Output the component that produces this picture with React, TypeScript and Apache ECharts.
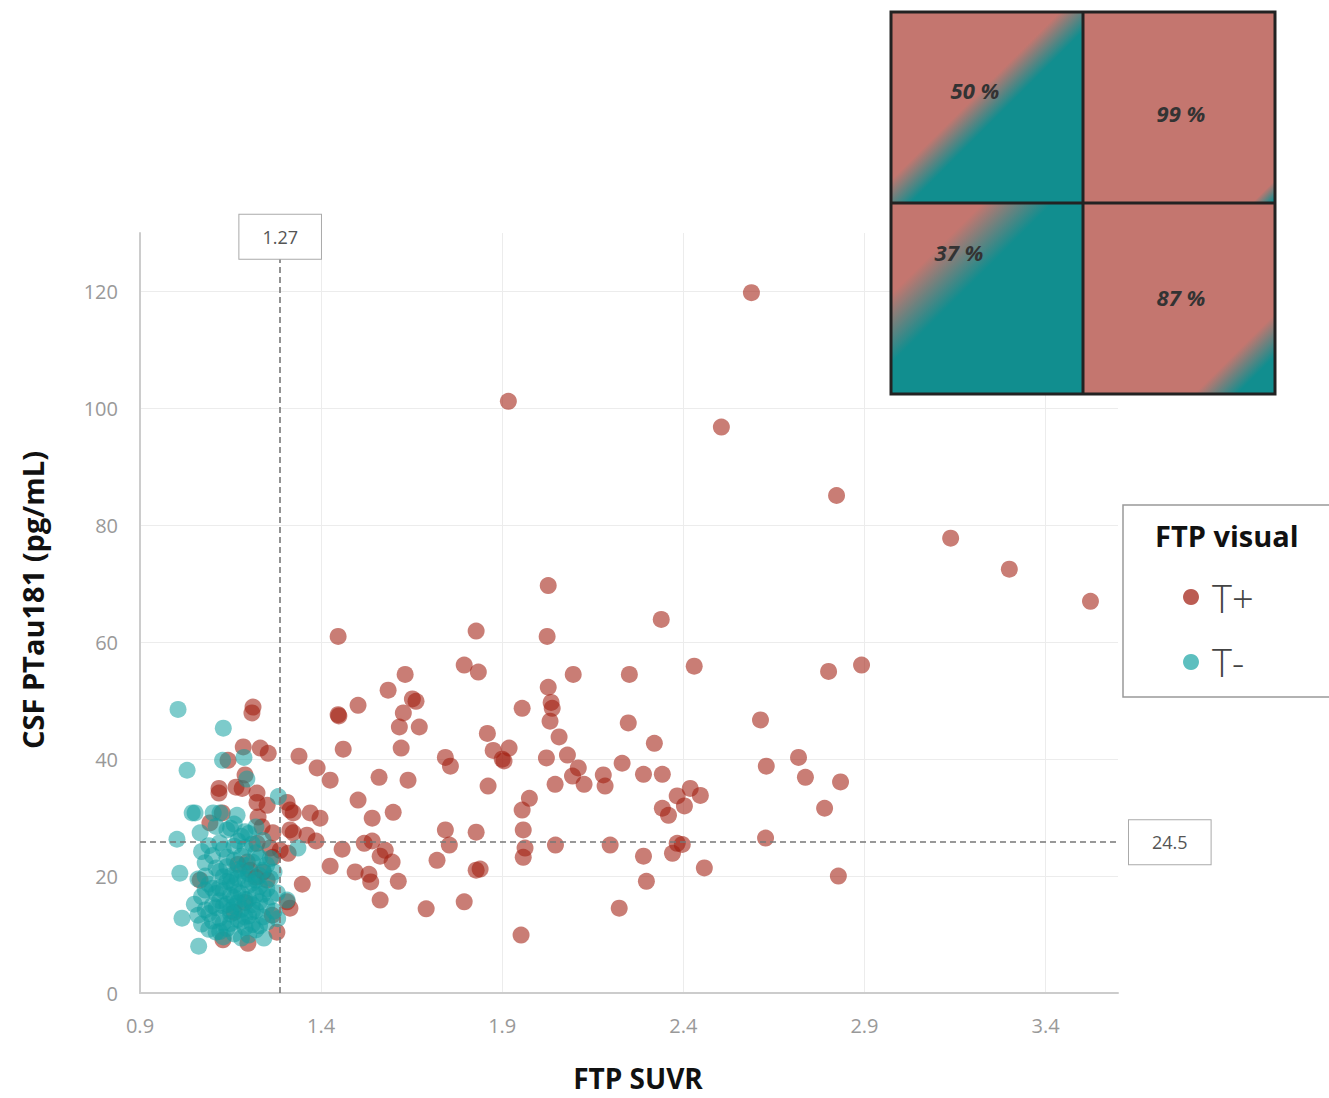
import React, { useEffect, useRef } from 'react';
import * as echarts from 'echarts';

// ---- Data ----
const xTickLabels = ['0.9', '1.4', '1.9', '2.4', '2.9', '3.4'];
const yTickLabels = ['0', '20', '40', '60', '80', '100', '120'];

const tPositive: number[][] = [
  [2.588, 119.8], [1.917, 101.2], [2.505, 96.8], [2.823, 85.1], [3.138, 77.8], [3.300, 72.5], [3.524, 67.0],
  [2.027, 69.7], [2.339, 63.9], [1.447, 61.0], [1.828, 61.9], [2.024, 61.0], [2.430, 55.9], [2.801, 55.0], [2.892, 56.1],
  [1.795, 56.1], [1.834, 54.9], [1.632, 54.5], [2.096, 54.5], [2.251, 54.5], [2.027, 52.3], [1.585, 51.8], [1.652, 50.3], [1.662, 49.9],
  [2.035, 49.7], [1.502, 49.2], [2.038, 48.7], [1.955, 48.7], [1.627, 47.9], [1.447, 47.6], [1.449, 47.4], [2.613, 46.7], [2.032, 46.5],
  [2.248, 46.2], [1.671, 45.5], [1.616, 45.5], [1.859, 44.4], [2.057, 43.8], [2.320, 42.7], [1.461, 41.7], [1.621, 41.9], [1.919, 41.9],
  [1.875, 41.5], [2.080, 40.7], [2.718, 40.3], [1.743, 40.3], [2.022, 40.2], [1.900, 40.0], [1.905, 39.7], [1.339, 40.5], [1.757, 38.8],
  [2.629, 38.8], [1.389, 38.5], [2.110, 38.5], [2.231, 39.3], [2.179, 37.3], [2.290, 37.4], [2.342, 37.4], [1.560, 36.9], [2.094, 37.1], [1.425, 36.4],
  [1.640, 36.4], [2.737, 36.9], [2.126, 35.7], [2.046, 35.7], [2.184, 35.4], [2.834, 36.1], [1.861, 35.4], [2.419, 35.0], [2.383, 33.7],
  [2.447, 33.8], [1.502, 33.0], [1.975, 33.3], [2.403, 32.0], [2.342, 31.6], [1.955, 31.3], [2.790, 31.6], [1.599, 30.9], [2.359, 30.4],
  [1.541, 29.9], [1.743, 27.9], [1.828, 27.5], [1.958, 27.9], [1.519, 25.6], [1.541, 26.0], [1.386, 26.0], [1.458, 24.6], [1.577, 24.4],
  [1.754, 25.3], [2.047, 25.3], [2.198, 25.3], [1.963, 24.8], [2.627, 26.5], [2.383, 25.6], [2.397, 25.4], [2.370, 23.9], [1.563, 23.4], [2.290, 23.4],
  [1.958, 23.2], [1.596, 22.4], [1.720, 22.7], [1.425, 21.7], [1.494, 20.7], [1.532, 20.3], [1.537, 19.0], [1.828, 21.0], [1.839, 21.2], [2.458, 21.4],
  [2.828, 20.0], [1.613, 19.1], [2.298, 19.1], [1.563, 15.9], [1.795, 15.6], [1.690, 14.4], [2.223, 14.5], [1.952, 9.9],
  // left cluster
  [1.212, 48.9], [1.209, 47.9], [1.185, 42.1], [1.232, 41.9], [1.254, 41.0], [1.143, 39.8], [1.190, 37.3], [1.118, 35.0], [1.118, 34.2],
  [1.165, 35.2], [1.182, 35.0], [1.223, 34.2], [1.223, 32.6], [1.251, 32.1], [1.306, 32.6], [1.314, 31.3], [1.323, 30.8], [1.370, 30.8],
  [1.397, 29.9], [1.226, 30.1], [1.237, 28.4], [1.267, 27.4], [1.314, 27.9], [1.323, 27.4], [1.093, 29.1], [1.127, 30.8], [1.361, 27.0],
  [1.259, 24.8], [1.223, 25.6], [1.309, 23.9], [1.267, 23.2], [1.240, 20.7], [1.251, 19.3], [1.348, 18.6], [1.204, 21.0], [1.306, 15.6],
  [1.314, 14.5], [1.265, 13.3], [1.278, 10.4], [1.129, 9.1], [1.198, 8.5], [1.066, 19.3], [1.196, 22.4], [1.17, 22.0], [1.22, 19.8],
  [1.19, 15.5], [1.16, 13.8], [1.287, 24.4],
];

const tNegative: number[][] = [
  [1.005, 48.5], [1.130, 45.3], [1.030, 38.1], [1.187, 40.3], [1.128, 39.8], [1.195, 36.6], [1.282, 33.6], [1.052, 30.8], [1.044, 30.8],
  [1.102, 30.8], [1.121, 30.8], [1.168, 30.4], [1.002, 26.3], [1.066, 27.4], [1.010, 20.5], [1.016, 12.8], [1.062, 8.0], [1.242, 9.4],
  [1.336, 24.8], [1.279, 17.1], [1.306, 15.9],
  [1.07, 16.5], [1.08, 14.2], [1.09, 18.6], [1.10, 12.3], [1.11, 21.4], [1.12, 15.8], [1.13, 24.6], [1.14, 19.1], [1.15, 13.5], [1.16, 22.7],
  [1.17, 17.3], [1.18, 26.8], [1.19, 11.2], [1.20, 20.4], [1.21, 15.1], [1.22, 24.0], [1.23, 18.2], [1.24, 13.0], [1.25, 21.9], [1.26, 16.4],
  [1.07, 11.8], [1.08, 22.3], [1.09, 13.6], [1.10, 17.9], [1.11, 10.4], [1.12, 25.7], [1.13, 14.9], [1.14, 11.0], [1.15, 28.2], [1.16, 18.4],
  [1.17, 12.6], [1.18, 20.9], [1.19, 16.0], [1.20, 27.3], [1.21, 11.7], [1.22, 19.3], [1.23, 23.1], [1.24, 16.9], [1.25, 12.1], [1.27, 14.0],
  [1.06, 19.5], [1.08, 17.6], [1.10, 23.5], [1.12, 12.8], [1.13, 19.9], [1.14, 23.2], [1.15, 16.7], [1.16, 10.1], [1.17, 21.1], [1.18, 14.3],
  [1.19, 24.9], [1.20, 13.2], [1.21, 18.8], [1.22, 10.8], [1.23, 15.6], [1.24, 26.1], [1.26, 19.6], [1.28, 12.7],
  [1.05, 15.2], [1.09, 25.2], [1.11, 14.6], [1.12, 18.0], [1.13, 9.6], [1.15, 20.0], [1.16, 14.8], [1.17, 26.0], [1.18, 9.4], [1.19, 19.4],
  [1.20, 16.1], [1.21, 22.4], [1.22, 14.1], [1.23, 11.5], [1.25, 17.8], [1.27, 20.7], [1.14, 27.9], [1.11, 28.5], [1.09, 10.9], [1.06, 13.3],
  [1.18, 17.0], [1.15, 11.9], [1.20, 9.9], [1.24, 21.0],
  [1.13, 17.5], [1.14, 15.2], [1.15, 18.9], [1.16, 16.3], [1.17, 19.6], [1.18, 12.2], [1.19, 21.8], [1.20, 18.4], [1.21, 13.9], [1.22, 16.8],
  [1.14, 21.6], [1.16, 25.1], [1.18, 23.4], [1.12, 20.8], [1.11, 17.0], [1.10, 15.0], [1.13, 12.0], [1.15, 14.1], [1.17, 15.4], [1.19, 13.0],
  [1.21, 25.5], [1.23, 20.1], [1.25, 14.9], [1.26, 23.0], [1.08, 20.0], [1.07, 24.2], [1.12, 10.5], [1.19, 27.6], [1.22, 28.4], [1.16, 28.9],
];

const seriesNames = ['T+', 'T-'];
const vLineValue = 1.287;
const vLineLabel = '1.27';
const vLineTop = 125.6;
const hLineValue = 25.8;
const hLineLabel = '24.5';

// inset panels
const insetLabels = ['50 %', '99 %', '37 %', '87 %'];

const FONT = '"Open Sans", "Noto Sans", sans-serif';
const RED = 'rgba(161, 29, 16, 0.72)';
const TEAL = 'rgba(16, 160, 160, 0.68)';
const SALMON = '#C4766F';
const TEALDARK = '#118E8F';

export default function App() {
  const ref = useRef<HTMLDivElement>(null);
  useEffect(() => {
    if (!ref.current) return;
    const chart = echarts.init(ref.current, undefined, { renderer: 'svg' });

    const cells = [
      { x: 891, y: 12, s0: 0.44, s1: 0.55, tx: 975, ty: 90 },
      { x: 1083, y: 12, s0: 0.94, s1: 0.99, tx: 1181, ty: 113 },
      { x: 891, y: 203, s0: 0.24, s1: 0.42, tx: 959, ty: 252 },
      { x: 1083, y: 203, s0: 0.79, s1: 0.9, tx: 1181, ty: 297 },
    ];
    const cw = 192, ch = 191;
    const insetGraphics: any[] = [];
    cells.forEach((c, i) => {
      insetGraphics.push({
        type: 'rect',
        shape: { x: c.x, y: c.y, width: cw, height: ch },
        style: {
          fill: new echarts.graphic.LinearGradient(0, 0, 1, 1, [
            { offset: 0, color: SALMON },
            { offset: c.s0, color: SALMON },
            { offset: c.s1, color: TEALDARK },
            { offset: 1, color: TEALDARK },
          ]),
        },
        z: 10,
      });
      insetGraphics.push({
        type: 'text',
        x: c.tx,
        y: c.ty,
        style: {
          text: insetLabels[i],
          font: `italic bold 22px ${FONT}`,
          fill: '#333',
          textAlign: 'center',
          textVerticalAlign: 'middle',
        },
        z: 12,
      });
    });
    insetGraphics.push(
      { type: 'rect', shape: { x: 891, y: 12, width: 384, height: 382 }, style: { fill: 'none', stroke: '#222', lineWidth: 3 }, z: 11 },
      { type: 'line', shape: { x1: 1083, y1: 12, x2: 1083, y2: 394 }, style: { stroke: '#222', lineWidth: 3 }, z: 11 },
      { type: 'line', shape: { x1: 891, y1: 203, x2: 1275, y2: 203 }, style: { stroke: '#222', lineWidth: 3 }, z: 11 },
    );

    const legendGraphics: any[] = [
      { type: 'rect', shape: { x: 1123, y: 505, width: 220, height: 192 }, style: { fill: '#fff', stroke: '#999', lineWidth: 1.5 }, z: 10 },
      { type: 'text', x: 1155, y: 535, style: { text: 'FTP visual', font: `bold 29px ${FONT}`, fill: '#111', textVerticalAlign: 'middle' }, z: 11 },
      { type: 'circle', shape: { cx: 1191, cy: 597, r: 8 }, style: { fill: RED }, z: 11 },
      { type: 'text', x: 1212, y: 598, style: { text: seriesNames[0], font: `300 38px ${FONT}`, fill: '#444', textVerticalAlign: 'middle' }, z: 11 },
      { type: 'circle', shape: { cx: 1191, cy: 662, r: 8 }, style: { fill: TEAL }, z: 11 },
      { type: 'text', x: 1212, y: 662, style: { text: seriesNames[1], font: `300 38px ${FONT}`, fill: '#444', textVerticalAlign: 'middle' }, z: 11 },
    ];

    const titleGraphics: any[] = [
      { type: 'text', x: 638, y: 1078, style: { text: 'FTP SUVR', font: `bold 28px ${FONT}`, fill: '#111', textAlign: 'center', textVerticalAlign: 'middle' } },
      { type: 'text', x: 32, y: 600, rotation: Math.PI / 2, style: { text: 'CSF PTau181 (pg/mL)', font: `bold 29px ${FONT}`, fill: '#111', textAlign: 'center', textVerticalAlign: 'middle' } },
    ];

    const labelBox = {
      fontFamily: FONT,
      fontSize: 18,
      color: '#555',
      backgroundColor: '#fff',
      borderColor: '#aaa',
      borderWidth: 1,
      padding: [13, 23, 13, 23],
    };

    chart.setOption({
      animation: false,
      backgroundColor: '#fff',
      grid: { left: 140, right: 211, top: 233, bottom: 105, containLabel: false },
      xAxis: {
        type: 'value',
        min: 0.9,
        max: 3.6,
        interval: 0.5,
        axisLine: { show: true, lineStyle: { color: '#ccc', width: 2 } },
        axisTick: { show: false },
        splitLine: { show: true, showMaxLine: false, lineStyle: { color: '#ececec', width: 1 } },
        axisLabel: {
          color: '#999',
          fontSize: 20,
          fontFamily: FONT,
          margin: 22,
          formatter: (v: number) => {
            const s = v.toFixed(1);
            return xTickLabels.includes(s) ? s : '';
          },
        },
      },
      yAxis: {
        type: 'value',
        min: 0,
        max: 130,
        interval: 20,
        axisLine: { show: true, lineStyle: { color: '#ccc', width: 2 } },
        axisTick: { show: false },
        splitLine: { show: true, showMaxLine: false, lineStyle: { color: '#ececec', width: 1 } },
        axisLabel: {
          color: '#999',
          fontSize: 20,
          fontFamily: FONT,
          margin: 22,
          formatter: (v: number) => {
            const s = String(Math.round(v));
            return yTickLabels.includes(s) && Math.abs(v - Math.round(v)) < 1e-6 ? s : '';
          },
        },
      },
      series: [
        {
          name: seriesNames[0],
          type: 'scatter',
          data: tPositive,
          symbolSize: 17,
          itemStyle: { color: RED },
          z: 2,
          markLine: {
            silent: true,
            symbol: 'none',
            animation: false,
            lineStyle: { color: '#777', type: [6, 4], width: 1.6 },
            data: [
              [
                { coord: [vLineValue, 0] },
                { coord: [vLineValue, vLineTop], label: { show: true, position: 'end', distance: 0, formatter: vLineLabel, ...labelBox } },
              ],
              { yAxis: hLineValue, label: { show: true, position: 'end', distance: 11, formatter: hLineLabel, ...labelBox } },
            ],
          },
        },
        {
          name: seriesNames[1],
          type: 'scatter',
          data: tNegative,
          symbolSize: 17,
          itemStyle: { color: TEAL },
          z: 3,
        },
      ],
      graphic: [...titleGraphics, ...insetGraphics, ...legendGraphics],
    });
    return () => chart.dispose();
  }, []);
  return <div ref={ref} style={{ position: 'fixed', left: 0, top: 0, width: 1329, height: 1098 }} />;
}
